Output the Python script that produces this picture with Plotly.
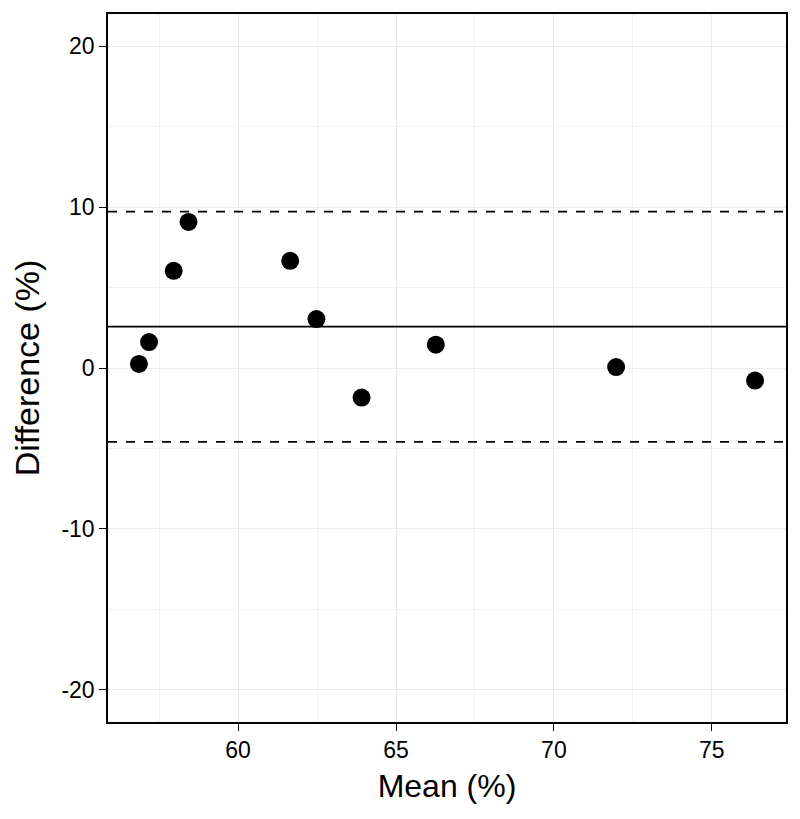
import plotly.graph_objects as go

mean_vals = [56.86, 57.18, 57.96, 58.43, 61.65, 62.48, 63.91, 66.26, 71.97, 76.37]
diff_vals = [0.25, 1.61, 6.04, 9.08, 6.66, 3.04, -1.84, 1.45, 0.06, -0.78]
bias = 2.57
upper_loa = 9.72
lower_loa = -4.59

x_ticks = [60, 65, 70, 75]
x_labels = ["60", "65", "70", "75"]
y_ticks = [-20, -10, 0, 10, 20]
y_labels = ["-20", "-10", "0", "10", "20"]

fig = go.Figure()
fig.add_trace(go.Scatter(x=mean_vals, y=diff_vals, mode="markers",
                         marker=dict(color="black", size=18), showlegend=False))

fig.add_hline(y=bias, line=dict(color="black", width=1.8))
fig.add_hline(y=upper_loa, line=dict(color="black", width=1.8, dash="dash"))
fig.add_hline(y=lower_loa, line=dict(color="black", width=1.8, dash="dash"))

axis_font = dict(family="Liberation Sans, Arial, sans-serif", size=23, color="black")
xtitle_font = dict(family="Liberation Sans, Arial, sans-serif", size=32, color="black")
ytitle_font = dict(family="Liberation Sans, Arial, sans-serif", size=34, color="black")

fig.update_xaxes(range=[55.88, 77.35], tickvals=x_ticks, ticktext=x_labels,
                 ticks="outside", ticklen=7,
                 tickcolor="black", tickwidth=1.2, tickfont=axis_font,
                 showgrid=True, gridcolor="#ebebeb", gridwidth=1,
                 minor=dict(dtick=2.5, tick0=57.5, showgrid=True, gridcolor="#f2f2f2", gridwidth=1),
                 showline=True, linecolor="black", linewidth=1.5, mirror=True,
                 zeroline=False, title=dict(text="Mean (%)", font=xtitle_font, standoff=12))
fig.update_yaxes(range=[-22, 22], tickvals=y_ticks, ticktext=y_labels,
                 ticks="outside", ticklen=7,
                 tickcolor="black", tickwidth=1.2, tickfont=axis_font,
                 showgrid=True, gridcolor="#ebebeb", gridwidth=1,
                 minor=dict(dtick=5, tick0=-15, showgrid=True, gridcolor="#f2f2f2", gridwidth=1),
                 showline=True, linecolor="black", linewidth=1.5, mirror=True,
                 zeroline=False, title=dict(text="Difference (%)", font=ytitle_font, standoff=12))

fig.update_layout(width=800, height=819, plot_bgcolor="white", paper_bgcolor="white",
                  margin=dict(l=108, r=13, t=12, b=97))

fig.write_html("out.html", config={"displayModeBar": False},
               post_script="document.body.style.margin='0';document.body.style.overflow='hidden';")
